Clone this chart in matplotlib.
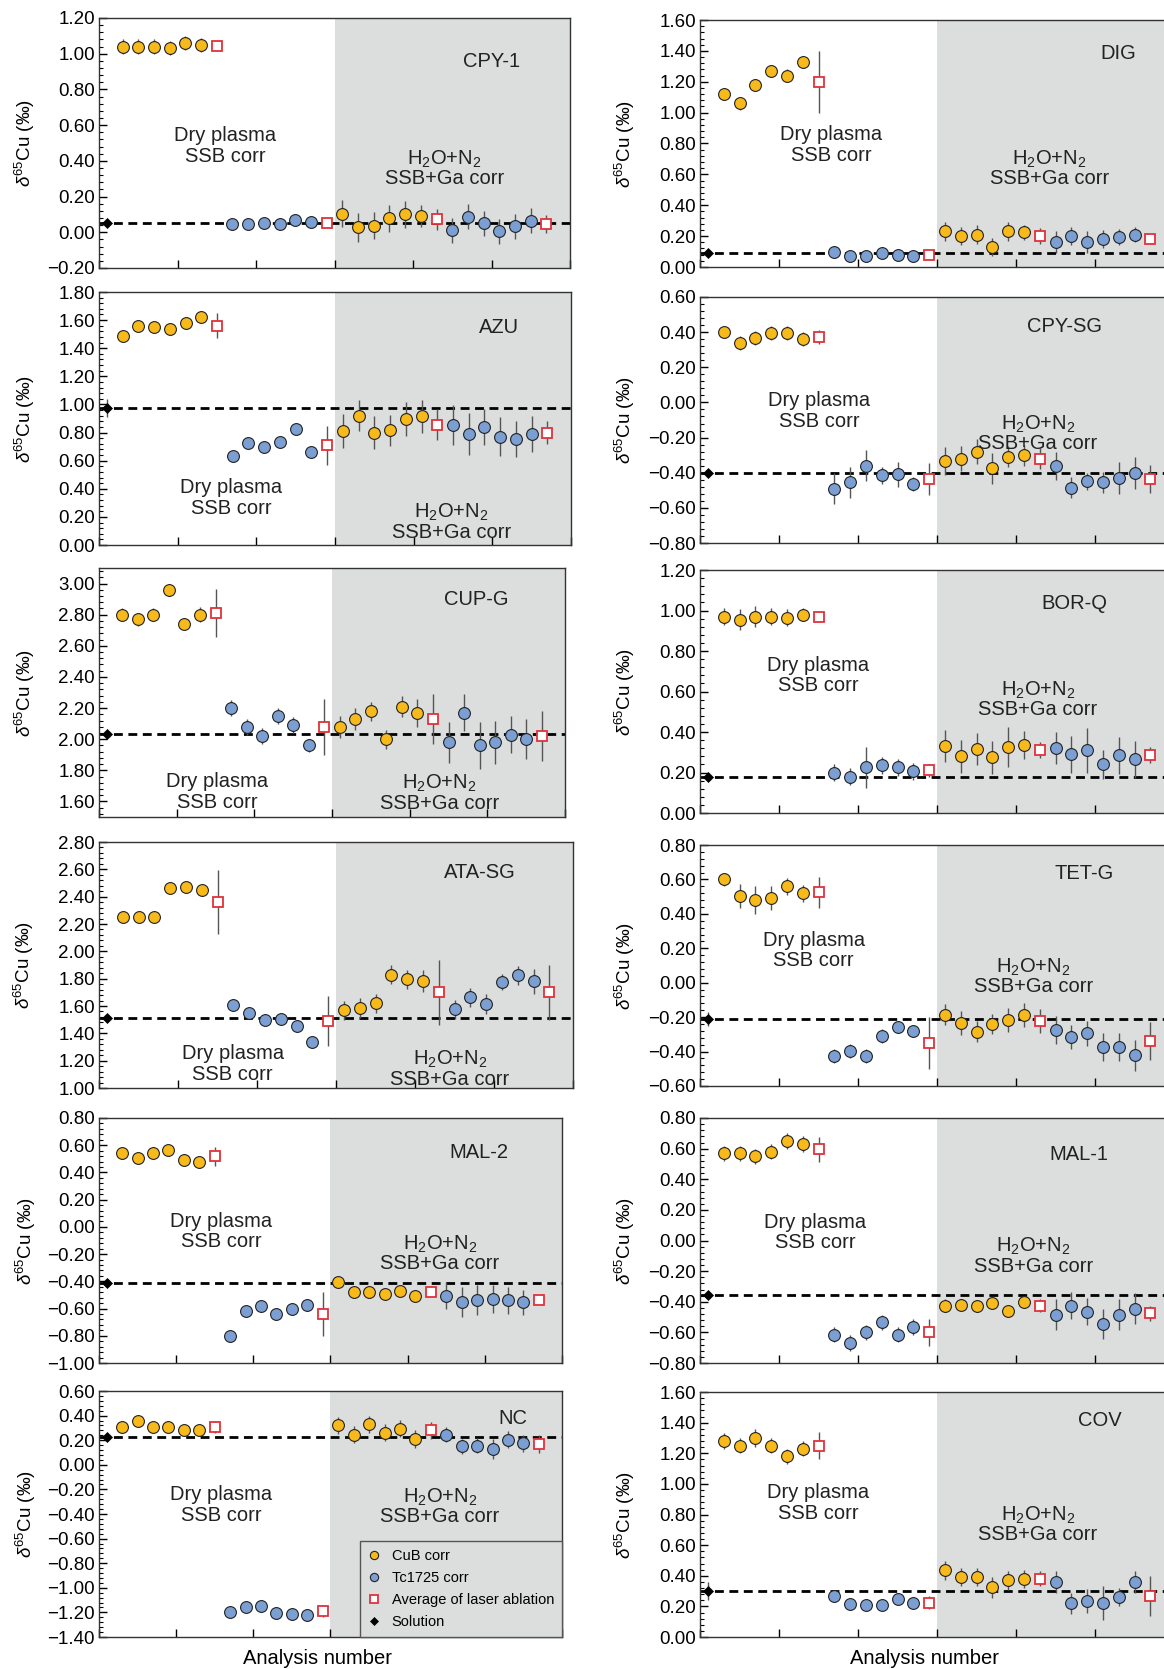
import numpy as np
import matplotlib
matplotlib.use("Agg")
import matplotlib.pyplot as plt
from matplotlib.ticker import MultipleLocator, AutoMinorLocator, FuncFormatter
from matplotlib.lines import Line2D

plt.rcParams['font.family'] = ['Liberation Sans', 'DejaVu Sans']
plt.rcParams['mathtext.fontset'] = 'custom'
plt.rcParams['mathtext.rm'] = 'Liberation Sans'
plt.rcParams['mathtext.it'] = 'Liberation Sans:italic'
plt.rcParams['mathtext.bf'] = 'Liberation Sans:bold'

# order of the 29 points in every panel:
# solution | 6 CuB dry | avg | 6 Tc1725 dry | avg | 6 CuB wet | avg | 6 Tc1725 wet | avg
kinds = (['sol'] + ['cub'] * 6 + ['avg'] + ['tc'] * 6 + ['avg']
         + ['cub'] * 6 + ['avg'] + ['tc'] * 6 + ['avg'])
analysis_no = np.arange(len(kinds)) + 0.5

samples = ['CPY-1', 'DIG', 'AZU', 'CPY-SG', 'CUP-G', 'BOR-Q',
           'ATA-SG', 'TET-G', 'MAL-2', 'MAL-1', 'NC', 'COV']

# d65Cu values (permil) and 2SD
cpy1 = [0.05,
        1.04, 1.04, 1.04, 1.03, 1.06, 1.05, 1.045,
        0.045, 0.048, 0.052, 0.048, 0.07, 0.055, 0.052,
        0.105, 0.028, 0.037, 0.078, 0.10, 0.09, 0.072,
        0.012, 0.088, 0.05, 0.005, 0.035, 0.065, 0.045]
cpy1_err = [0.01,
            0.04, 0.04, 0.04, 0.04, 0.04, 0.04, 0.02,
            0.03, 0.03, 0.03, 0.03, 0.03, 0.03, 0.02,
            0.075, 0.08, 0.075, 0.075, 0.075, 0.06, 0.06,
            0.07, 0.07, 0.07, 0.07, 0.07, 0.07, 0.05]

dig = [0.09,
       1.12, 1.06, 1.18, 1.27, 1.24, 1.33, 1.20,
       0.10, 0.07, 0.07, 0.09, 0.08, 0.07, 0.08,
       0.23, 0.20, 0.21, 0.13, 0.23, 0.225, 0.20,
       0.16, 0.20, 0.16, 0.18, 0.195, 0.21, 0.18]
dig_err = [0.01,
           0.04, 0.04, 0.04, 0.04, 0.04, 0.04, 0.20,
           0.02, 0.02, 0.02, 0.02, 0.02, 0.02, 0.02,
           0.06, 0.06, 0.06, 0.06, 0.06, 0.05, 0.05,
           0.07, 0.06, 0.07, 0.06, 0.05, 0.05, 0.03]

azu = [0.975,
       1.49, 1.56, 1.55, 1.54, 1.58, 1.62, 1.56,
       0.63, 0.725, 0.70, 0.73, 0.825, 0.66, 0.71,
       0.81, 0.92, 0.80, 0.815, 0.895, 0.915, 0.855,
       0.855, 0.79, 0.84, 0.77, 0.755, 0.79, 0.80]
azu_err = [0.065,
           0.03, 0.04, 0.03, 0.03, 0.04, 0.04, 0.09,
           0.03, 0.03, 0.03, 0.03, 0.03, 0.03, 0.14,
           0.12, 0.11, 0.12, 0.11, 0.12, 0.12, 0.11,
           0.14, 0.15, 0.13, 0.14, 0.13, 0.13, 0.08]

cpysg = [-0.40,
         0.40, 0.34, 0.365, 0.395, 0.395, 0.36, 0.375,
         -0.49, -0.455, -0.36, -0.415, -0.41, -0.465, -0.435,
         -0.335, -0.32, -0.28, -0.375, -0.31, -0.30, -0.32,
         -0.36, -0.485, -0.45, -0.455, -0.43, -0.40, -0.435]
cpysg_err = [0.01,
             0.03, 0.04, 0.04, 0.04, 0.04, 0.04, 0.04,
             0.09, 0.09, 0.09, 0.05, 0.07, 0.04, 0.09,
             0.08, 0.07, 0.07, 0.09, 0.06, 0.06, 0.06,
             0.08, 0.06, 0.05, 0.06, 0.09, 0.09, 0.08]

cupg = [2.035,
        2.80, 2.77, 2.80, 2.96, 2.74, 2.80, 2.81,
        2.20, 2.08, 2.02, 2.15, 2.09, 1.96, 2.08,
        2.08, 2.13, 2.18, 2.00, 2.21, 2.17, 2.13,
        1.98, 2.17, 1.96, 1.98, 2.03, 2.00, 2.02]
cupg_err = [0.01,
            0.04, 0.04, 0.04, 0.04, 0.04, 0.05, 0.155,
            0.05, 0.05, 0.05, 0.05, 0.05, 0.04, 0.18,
            0.07, 0.07, 0.06, 0.06, 0.07, 0.09, 0.16,
            0.13, 0.12, 0.15, 0.14, 0.12, 0.13, 0.16]

borq = [0.18,
        0.97, 0.955, 0.97, 0.97, 0.965, 0.98, 0.97,
        0.20, 0.18, 0.225, 0.235, 0.225, 0.205, 0.21,
        0.33, 0.28, 0.315, 0.275, 0.325, 0.335, 0.31,
        0.32, 0.29, 0.31, 0.24, 0.285, 0.265, 0.285]
borq_err = [0.01,
            0.04, 0.05, 0.05, 0.04, 0.04, 0.03, 0.01,
            0.04, 0.04, 0.10, 0.04, 0.04, 0.04, 0.03,
            0.08, 0.08, 0.08, 0.08, 0.10, 0.07, 0.04,
            0.08, 0.09, 0.11, 0.07, 0.09, 0.09, 0.04]

atasg = [1.515,
         2.25, 2.25, 2.25, 2.46, 2.47, 2.45, 2.36,
         1.61, 1.55, 1.495, 1.505, 1.455, 1.34, 1.49,
         1.57, 1.585, 1.62, 1.83, 1.795, 1.785, 1.70,
         1.575, 1.665, 1.615, 1.775, 1.825, 1.78, 1.70]
atasg_err = [0.01,
             0.02, 0.02, 0.02, 0.02, 0.02, 0.02, 0.235,
             0.02, 0.02, 0.02, 0.02, 0.02, 0.02, 0.18,
             0.07, 0.07, 0.07, 0.07, 0.07, 0.08, 0.24,
             0.07, 0.07, 0.07, 0.06, 0.07, 0.09, 0.20]

tetg = [-0.21,
        0.60, 0.505, 0.48, 0.49, 0.56, 0.52, 0.525,
        -0.425, -0.395, -0.425, -0.31, -0.26, -0.28, -0.35,
        -0.185, -0.235, -0.285, -0.24, -0.215, -0.19, -0.225,
        -0.275, -0.315, -0.295, -0.375, -0.375, -0.42, -0.34]
tetg_err = [0.04,
            0.04, 0.07, 0.08, 0.07, 0.05, 0.05, 0.09,
            0.04, 0.04, 0.04, 0.04, 0.03, 0.03, 0.15,
            0.06, 0.07, 0.06, 0.06, 0.07, 0.07, 0.07,
            0.08, 0.07, 0.07, 0.08, 0.08, 0.09, 0.11]

mal2 = [-0.415,
        0.54, 0.505, 0.54, 0.565, 0.495, 0.475, 0.52,
        -0.80, -0.62, -0.58, -0.64, -0.605, -0.575, -0.64,
        -0.405, -0.475, -0.48, -0.49, -0.47, -0.505, -0.475,
        -0.505, -0.555, -0.54, -0.53, -0.54, -0.555, -0.54]
mal2_err = [0.01,
            0.04, 0.04, 0.04, 0.04, 0.04, 0.04, 0.07,
            0.04, 0.04, 0.04, 0.04, 0.04, 0.04, 0.16,
            0.03, 0.03, 0.03, 0.03, 0.03, 0.03, 0.04,
            0.10, 0.11, 0.11, 0.10, 0.10, 0.09, 0.02]

mal1 = [-0.355,
        0.57, 0.57, 0.55, 0.58, 0.65, 0.63, 0.595,
        -0.615, -0.67, -0.60, -0.535, -0.615, -0.565, -0.60,
        -0.425, -0.42, -0.43, -0.41, -0.46, -0.40, -0.425,
        -0.485, -0.425, -0.465, -0.545, -0.485, -0.445, -0.475]
mal1_err = [0.01,
            0.05, 0.05, 0.05, 0.05, 0.05, 0.05, 0.08,
            0.05, 0.05, 0.05, 0.05, 0.05, 0.05, 0.09,
            0.04, 0.04, 0.04, 0.04, 0.04, 0.04, 0.04,
            0.10, 0.09, 0.09, 0.10, 0.10, 0.10, 0.05]

nc = [0.225,
      0.31, 0.36, 0.31, 0.31, 0.28, 0.28, 0.31,
      -1.20, -1.16, -1.15, -1.205, -1.215, -1.22, -1.19,
      0.32, 0.245, 0.33, 0.26, 0.295, 0.21, 0.28,
      0.245, 0.15, 0.155, 0.13, 0.205, 0.175, 0.17]
nc_err = [0.02,
          0.03, 0.03, 0.03, 0.03, 0.03, 0.03, 0.05,
          0.04, 0.04, 0.04, 0.04, 0.04, 0.04, 0.05,
          0.07, 0.07, 0.07, 0.07, 0.07, 0.07, 0.07,
          0.06, 0.06, 0.06, 0.08, 0.07, 0.07, 0.07]

cov = [0.30,
       1.28, 1.25, 1.30, 1.25, 1.18, 1.23, 1.25,
       0.27, 0.215, 0.21, 0.21, 0.25, 0.22, 0.225,
       0.435, 0.39, 0.39, 0.325, 0.37, 0.38, 0.38,
       0.36, 0.22, 0.235, 0.22, 0.26, 0.36, 0.27]
cov_err = [0.06,
           0.05, 0.05, 0.06, 0.05, 0.05, 0.05, 0.09,
           0.03, 0.03, 0.03, 0.03, 0.03, 0.03, 0.04,
           0.06, 0.06, 0.06, 0.07, 0.06, 0.06, 0.05,
           0.07, 0.07, 0.08, 0.11, 0.06, 0.07, 0.13]

values = {'CPY-1': (cpy1, cpy1_err), 'DIG': (dig, dig_err), 'AZU': (azu, azu_err),
          'CPY-SG': (cpysg, cpysg_err), 'CUP-G': (cupg, cupg_err), 'BOR-Q': (borq, borq_err),
          'ATA-SG': (atasg, atasg_err), 'TET-G': (tetg, tetg_err), 'MAL-2': (mal2, mal2_err),
          'MAL-1': (mal1, mal1_err), 'NC': (nc, nc_err), 'COV': (cov, cov_err)}

# ---- layout (pixels: left, top, right, bottom) ----
W, H = 1164, 1669
boxes = {'CPY-1': (99, 18, 570, 268), 'DIG': (700, 20, 1174, 267),
         'AZU': (99, 292, 571, 545), 'CPY-SG': (700, 297, 1174, 543),
         'CUP-G': (99, 568, 565, 817), 'BOR-Q': (700, 570, 1174, 813),
         'ATA-SG': (99, 842, 573, 1088), 'TET-G': (700, 845, 1174, 1086),
         'MAL-2': (99, 1118, 562, 1363), 'MAL-1': (700, 1118, 1174, 1363),
         'NC': (99, 1391, 562, 1637), 'COV': (700, 1392, 1174, 1637)}
ylims = {'CPY-1': (-0.2, 1.2), 'DIG': (0, 1.6), 'AZU': (0, 1.8), 'CPY-SG': (-0.8, 0.6),
         'CUP-G': (1.5, 3.1), 'BOR-Q': (0, 1.2), 'ATA-SG': (1.0, 2.8), 'TET-G': (-0.6, 0.8),
         'MAL-2': (-1.0, 0.8), 'MAL-1': (-0.8, 0.8), 'NC': (-1.4, 0.6), 'COV': (0, 1.6)}
name_xy = {'CPY-1': (25.0, 0.955), 'DIG': (26.5, 1.38), 'AZU': (25.4, 1.55),
           'CPY-SG': (23.1, 0.43), 'CUP-G': (24.3, 2.90), 'BOR-Q': (23.7, 1.037),
           'ATA-SG': (24.1, 2.575), 'TET-G': (24.3, 0.636), 'MAL-2': (24.6, 0.547),
           'MAL-1': (24.0, 0.56), 'NC': (26.8, 0.375), 'COV': (25.3, 1.413)}
dry_xy = {'CPY-1': (8.05, 0.484), 'DIG': (8.3, 0.79), 'AZU': (8.4, 0.336),
          'CPY-SG': (7.55, -0.05), 'CUP-G': (7.6, 1.66), 'BOR-Q': (7.5, 0.68),
          'ATA-SG': (8.46, 1.176), 'TET-G': (7.2, 0.187), 'MAL-2': (7.9, -0.034),
          'MAL-1': (7.3, 0.052), 'NC': (7.9, -0.325), 'COV': (7.5, 0.876)}
wet_xy = {'CPY-1': (22.0, 0.36), 'DIG': (22.1, 0.64), 'AZU': (22.4, 0.165),
          'CPY-SG': (21.4, -0.175), 'CUP-G': (21.9, 1.655), 'BOR-Q': (21.4, 0.56),
          'ATA-SG': (22.2, 1.14), 'TET-G': (21.1, 0.037), 'MAL-2': (22.1, -0.195),
          'MAL-1': (21.1, -0.10), 'NC': (22.1, -0.335), 'COV': (21.4, 0.735)}

shade = '#dcdddd'
styles = {'cub': dict(marker='o', ms=8.5, mfc='#f8b91a', mec='#222222', mew=0.8),
          'tc': dict(marker='o', ms=8.5, mfc='#7b9fd3', mec='#222222', mew=0.8),
          'avg': dict(marker='s', ms=7.8, mfc='white', mec='#e2313a', mew=1.3),
          'sol': dict(marker='D', ms=5.5, mfc='black', mec='black', mew=0.5)}
labels = {'cub': 'CuB corr', 'tc': 'Tc1725 corr', 'avg': 'Average of laser ablation',
          'sol': 'Solution'}

fmt = FuncFormatter(lambda v, p: f'{v:.2f}'.replace('-', '\u2212'))

fig = plt.figure(figsize=(W / 100, H / 100), dpi=100)

for s in samples:
    l, t, r, b = boxes[s]
    ax = fig.add_axes([l / W, 1 - b / H, (r - l) / W, (b - t) / H])
    vals, errs = values[s]
    vals = np.array(vals)
    errs = np.array(errs)
    k = np.array(kinds)

    ax.axvspan(15, 30, color=shade, lw=0, zorder=0)
    ax.axhline(vals[0], color='black', lw=2.0, ls=(0, (3.2, 2.0)), zorder=2)
    ax.errorbar(analysis_no, vals, yerr=errs, fmt='none', ecolor='#555555',
                elinewidth=1.0, capsize=0, zorder=3)
    for kind in ['sol', 'cub', 'tc', 'avg']:
        m = k == kind
        ax.plot(analysis_no[m], vals[m], ls='none', zorder=4, **styles[kind])

    ax.set_xlim(0, 30)
    ax.set_ylim(*ylims[s])
    ax.xaxis.set_major_locator(MultipleLocator(5))
    ax.yaxis.set_major_locator(MultipleLocator(0.2))
    ax.yaxis.set_minor_locator(AutoMinorLocator(5))
    ax.yaxis.set_major_formatter(fmt)
    ax.tick_params(axis='x', direction='in', length=6, width=1.0, labelbottom=False)
    ax.tick_params(axis='y', which='major', direction='in', length=6, width=1.0,
                   labelsize=13.5, pad=3)
    ax.tick_params(axis='y', which='minor', direction='in', length=3, width=0.8)
    for sp in ax.spines.values():
        sp.set_linewidth(1.0)
        sp.set_color('#333333')

    ax.set_ylabel(r'$\delta^{65}$Cu (‰)', fontsize=13.5)
    ax.yaxis.set_label_coords(-0.132, 0.5)

    ax.text(*name_xy[s], s, fontsize=14.5, ha='center', va='center', color='#222222')
    ax.text(*dry_xy[s], 'Dry plasma\nSSB corr', fontsize=14.5, ha='center',
            va='center', linespacing=1.1, color='#222222')
    ax.text(*wet_xy[s], 'H$_2$O+N$_2$\nSSB+Ga corr', fontsize=14.5, ha='center',
            va='center', linespacing=0.95, color='#222222')

    if s == 'NC':
        handles = [Line2D([], [], ls='none', **styles[kk]) for kk in ['cub', 'tc', 'avg', 'sol']]
        leg = ax.legend(handles, [labels[kk] for kk in ['cub', 'tc', 'avg', 'sol']],
                        loc='lower right', bbox_to_anchor=(1, 0), borderaxespad=0,
                        fontsize=10.5, markerscale=0.7, handlelength=0.8,
                        handletextpad=0.8, labelspacing=0.55, borderpad=0.55,
                        fancybox=False, framealpha=1)
        leg.get_frame().set_facecolor(shade)
        leg.get_frame().set_edgecolor('#555555')
        leg.get_frame().set_linewidth(1.0)

fig.text(318 / W, 1 - 1658 / H, 'Analysis number', fontsize=14.5, ha='center', va='center')
fig.text(924 / W, 1 - 1658 / H, 'Analysis number', fontsize=14.5, ha='center', va='center')

fig.savefig('out.png', dpi=100)
